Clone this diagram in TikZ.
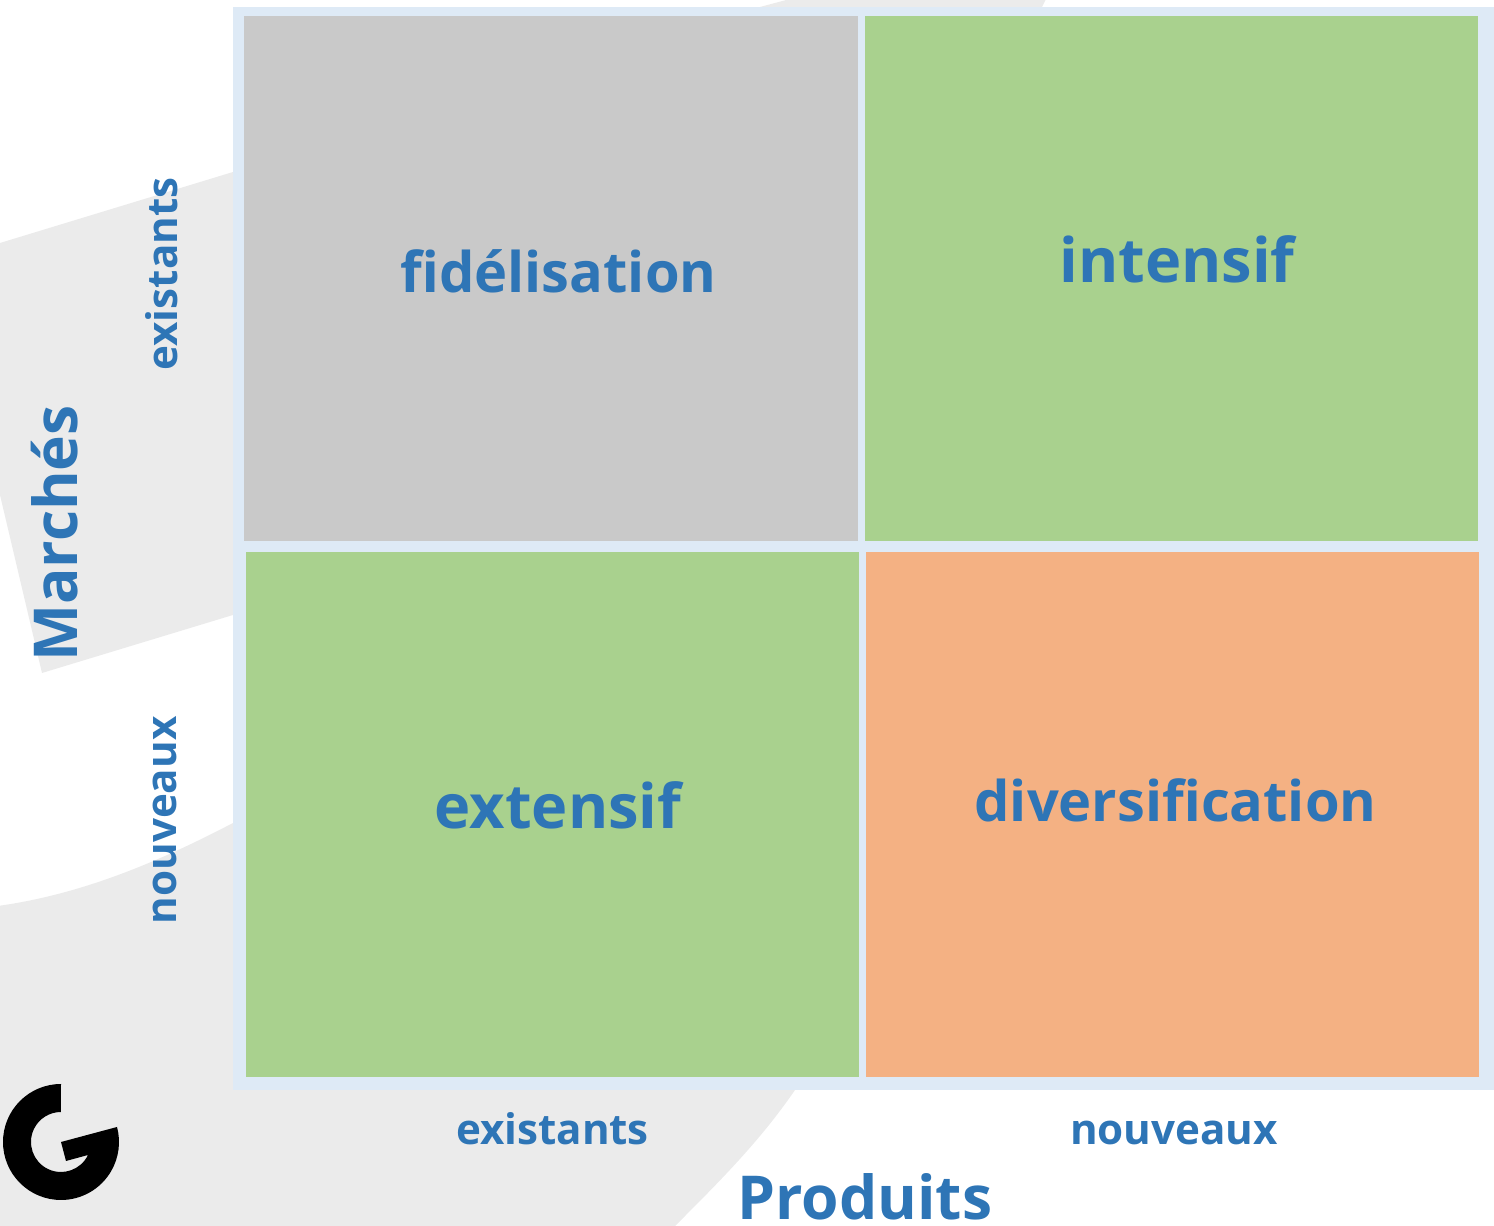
\documentclass[tikz,border=0pt]{standalone}
\usepackage{fontspec}
\setmainfont{Open Sans}
\definecolor{framecol}{HTML}{DEEAF6}
\definecolor{greycol}{HTML}{C9C9C9}
\definecolor{greencol}{HTML}{A9D18E}
\definecolor{orangecol}{HTML}{F4B183}
\definecolor{markcol}{HTML}{EBEBEB}
\definecolor{textcol}{HTML}{2E75B6}
\tikzset{
  cell/.style={anchor=base, text=textcol, font=\bfseries\fontsize{42}{50}\selectfont, inner sep=0pt},
  cellbig/.style={anchor=base, text=textcol, font=\bfseries\fontsize{46}{54}\selectfont, inner sep=0pt},
  axis/.style={anchor=base, text=textcol, font=\bfseries\fontsize{45.4}{54}\selectfont, inner sep=0pt},
  level/.style={anchor=base, text=textcol, font=\bfseries\fontsize{31.6}{38}\selectfont, inner sep=0pt},
}
\begin{document}
\begin{tikzpicture}[x=0.75pt,y=0.75pt]
  \path[use as bounding box, clip] (0,0) rectangle (1494,1226);

  %% watermark
  \fill[markcol] (0,983) -- (233,1054) -- (760,1219) -- (790,1227) -- (1046,1227) -- (1042,1219)
    -- (795,136) .. controls (760,85) and (720,45) .. (675,0) -- (-10,0) -- (-10,319)
    .. controls (80,330) and (160,365) .. (233,403) -- (233,611) -- (42,553) -- (0,731) -- cycle;

  %% frame and cells
  \fill[framecol] (233,136) rectangle (1494,1219);
  \fill[greycol] (244,685) rectangle (858,1210);
  \fill[greencol] (865,685) rectangle (1478,1210);
  \fill[greencol] (246,149) rectangle (859,674);
  \fill[orangecol] (865.5,149) rectangle (1479,674);

  %% logo
  \fill[black] (61,142) arc (90:375:58) -- (61,84) -- (66,65) -- (88,71) arc (334.3:90:30) -- cycle;

  %% labels
  \node[cell] (fidelisation) at (558.5,933) {fidélisation};
  \node[cellbig] (intensif) at (1177,943) {intensif};
  \node[cellbig] (extensif) at (558,397) {extensif};
  \node[cell] (diversification) at (1175.5,404) {diversification};
  \node[level] (prodold) at (552.5,81) {existants};
  \node[level] (prodnew) at (1174,81) {nouveaux};
  \node[axis] (produits) at (865,6) {Produits};
  \node[level, rotate=90] (markold) at (177,952) {existants};
  \node[level, rotate=90] (marknew) at (176,405.5) {nouveaux};
  \node[axis, rotate=90] (marches) at (77,692.5) {Marchés};
\end{tikzpicture}
\end{document}
